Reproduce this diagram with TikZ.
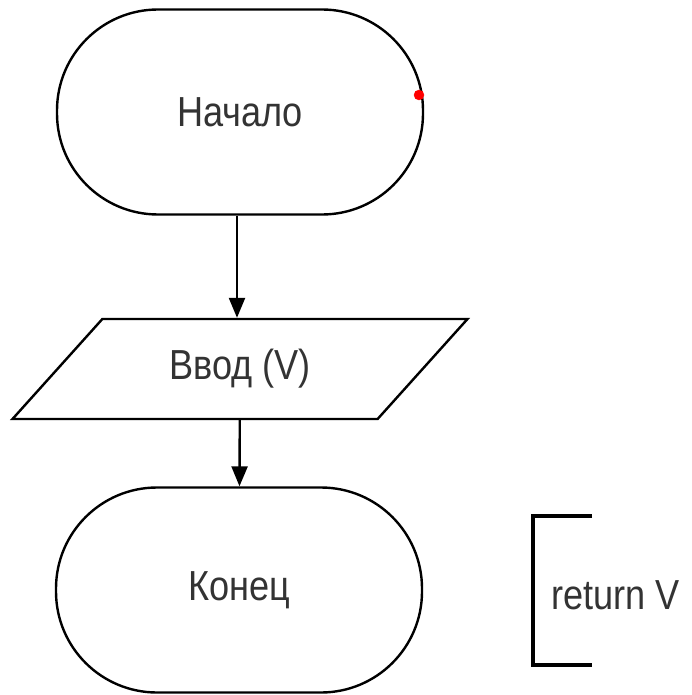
\documentclass[tikz,border=0pt]{standalone}
\usepackage{fontspec}
\setmainfont{Liberation Sans}[FakeStretch=0.86]
\usetikzlibrary{arrows.meta, shapes.geometric, positioning}

\tikzset{
	term/.style={draw, line width=2.4pt, rectangle, rounded corners=101pt, minimum width=366pt, minimum height=205pt, font=\fontsize{42}{46}\selectfont, text=black!80},
	io/.style={draw, line width=2.4pt, trapezium, trapezium left angle=27, trapezium right angle=153, trapezium stretches body, minimum width=455pt, minimum height=100pt, font=\fontsize{42}{46}\selectfont, text=black!80},
	flow/.style={line width=2.4pt, -{Triangle[length=20pt,width=16pt]}}
}

\begin{document}
\begin{tikzpicture}[x=1pt,y=-1pt]
				\useasboundingbox (0,0) rectangle (692,695);
				\node[term] (start) at (240,112) {Начало};
				\node[io] (input) at (240,369) {Ввод (V)};
				\node[term] (end) at (239,590) {Конец};
				\draw[flow] (start.south -| 237,0) -- (input.north -| 237,0);
				\draw[flow] (input) -- (end);
				\filldraw[red] (419,95) circle (5pt);
				\draw[line width=3.6pt] (592,516) -- (533,516) -- (533,665) -- (592,665);
				\node[anchor=west, font=\fontsize{42}{46}\selectfont, text=black!80] (ret) at (548,595) {return V};
			\end{tikzpicture}
\end{document}
